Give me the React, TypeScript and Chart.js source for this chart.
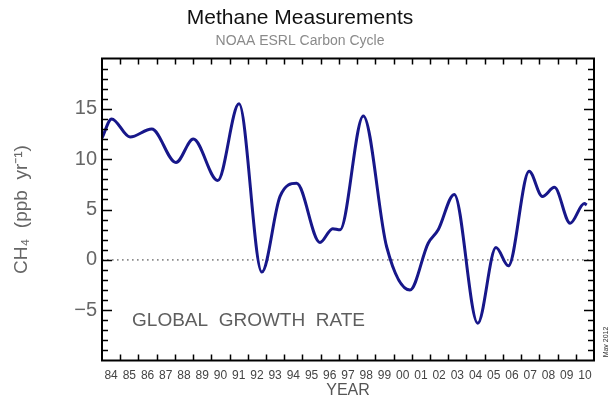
import React, { useEffect, useRef } from 'react';
import { Chart, registerables } from 'chart.js';

Chart.register(...registerables);

// Growth-rate curve (decimal year, ppb/yr): extrema and shoulders
const years = [
  1984.0, 1984.53, 1985.54, 1986.73, 1988.06, 1989.01, 1990.35, 1991.52,
  1992.77, 1993.77, 1994.68, 1995.96, 1996.66, 1997.06,
  1998.34, 1999.62, 2000.9, 2001.9, 2002.45, 2003.33, 2004.62,
  2005.62, 2006.3, 2007.44, 2008.17, 2008.83, 2009.69, 2010.47, 2010.6,
];
const growth = [
  12.1, 14.0, 12.2, 13.0, 9.67, 12.0, 7.88, 15.5,
  -1.22, 6.3, 7.6, 1.72, 3.1, 2.98,
  14.3, 1.3, -3.0, 1.65, 2.98, 6.5, -6.3,
  1.22, -0.6, 8.8, 6.29, 7.2, 3.64, 5.6, 5.45,
];

// Year tick labels (centred on each year)
const yearLabels = [
  '84', '85', '86', '87', '88', '89', '90', '91', '92', '93', '94', '95', '96', '97',
  '98', '99', '00', '01', '02', '03', '04', '05', '06', '07', '08', '09', '10',
];
const yTickValues = [-5, 0, 5, 10, 15];
const yTickLabels = ['\u22125', '0', '5', '10', '15'];

const X_MIN = 1984;
const X_MAX = 2011;
const Y_MIN = -10;
const Y_MAX = 20;

const FONT = "'Liberation Sans', Arial, Helvetica, sans-serif";

const framePlugin = {
  id: 'frame',
  beforeDatasetsDraw(chart: any) {
    const { ctx, chartArea: a, scales } = chart;
    const y0 = scales.y.getPixelForValue(0);
    ctx.save();
    ctx.strokeStyle = '#8c8c8c';
    ctx.lineWidth = 1.6;
    ctx.setLineDash([1.6, 3.4]);
    ctx.beginPath();
    ctx.moveTo(a.left, y0);
    ctx.lineTo(a.right, y0);
    ctx.stroke();
    ctx.restore();
  },
  afterDatasetsDraw(chart: any) {
    const { ctx, chartArea: a, scales } = chart;
    const xs = scales.x;
    const ys = scales.y;
    ctx.save();
    ctx.strokeStyle = '#000';
    ctx.lineWidth = 2;
    ctx.strokeRect(a.left, a.top, a.right - a.left, a.bottom - a.top);
    ctx.lineWidth = 1.5;
    ctx.beginPath();
    for (let yr = X_MIN + 1; yr < X_MAX; yr++) {
      const px = Math.round(xs.getPixelForValue(yr)) + 0.5;
      ctx.moveTo(px, a.bottom);
      ctx.lineTo(px, a.bottom - 6);
      ctx.moveTo(px, a.top);
      ctx.lineTo(px, a.top + 6);
    }
    for (let v = Y_MIN + 1; v < Y_MAX; v++) {
      const py = Math.round(ys.getPixelForValue(v)) + 0.5;
      const len = v % 5 === 0 ? 10 : 6;
      ctx.moveTo(a.left, py);
      ctx.lineTo(a.left + len, py);
      ctx.moveTo(a.right, py);
      ctx.lineTo(a.right - len, py);
    }
    ctx.stroke();

    // annotation
    ctx.fillStyle = '#5e5e5e';
    ctx.font = `19px ${FONT}`;
    ctx.textAlign = 'left';
    ctx.textBaseline = 'alphabetic';
    ctx.fillText('GLOBAL  GROWTH  RATE', xs.getPixelForValue(1985.65), ys.getPixelForValue(-6.6));

    // date stamp
    ctx.translate(606, 342);
    ctx.rotate(-Math.PI / 2);
    ctx.fillStyle = '#333';
    ctx.font = `7px ${FONT}`;
    ctx.textAlign = 'center';
    ctx.textBaseline = 'middle';
    ctx.fillText('May 2012', 0, 0);
    ctx.restore();
  },
};

export default function App() {
  const ref = useRef<HTMLCanvasElement | null>(null);

  useEffect(() => {
    if (!ref.current) return;
    const chart = new Chart(ref.current, {
      type: 'line',
      data: {
        datasets: [
          {
            data: years.map((x, i) => ({ x, y: growth[i] })),
            borderColor: '#17178a',
            borderWidth: 3,
            pointRadius: 0,
            fill: false,
            cubicInterpolationMode: 'monotone',
          },
        ],
      },
      options: {
        animation: false,
        responsive: false,
        devicePixelRatio: 1,
        layout: { padding: { left: 6, right: 14, top: 0, bottom: 0 } },
        plugins: {
          legend: { display: false },
          tooltip: { enabled: false },
          title: {
            display: true,
            text: 'Methane Measurements',
            color: '#111',
            font: { family: FONT, size: 21, weight: 'normal' },
            padding: { top: 6, bottom: 2 },
          },
          subtitle: {
            display: true,
            text: 'NOAA ESRL Carbon Cycle',
            color: '#8a8a8a',
            font: { family: FONT, size: 14, weight: 'normal' },
            padding: { top: 0, bottom: 8.5 },
          },
        },
        scales: {
          x: {
            type: 'linear',
            min: X_MIN,
            max: X_MAX,
            grid: { display: false, drawTicks: false },
            border: { display: false },
            afterBuildTicks: (s: any) => {
              s.ticks = yearLabels.map((_, i) => ({ value: X_MIN + i + 0.5 }));
            },
            afterFit: (s: any) => {
              s.height = 39.5;
            },
            ticks: {
              autoSkip: false,
              maxRotation: 0,
              padding: 8,
              color: '#444',
              font: { family: FONT, size: 12 },
              callback: (v: any) => yearLabels[Math.floor(Number(v) - X_MIN)] ?? '',
            },
            title: {
              display: true,
              text: 'YEAR',
              color: '#555',
              font: { family: FONT, size: 16 },
              padding: 0,
            },
          },
          y: {
            type: 'linear',
            min: Y_MIN,
            max: Y_MAX,
            grid: { display: false, drawTicks: false },
            border: { display: false },
            afterBuildTicks: (s: any) => {
              s.ticks = yTickValues.map((v) => ({ value: v }));
            },
            afterFit: (s: any) => {
              s.width = 96;
            },
            ticks: {
              padding: 5,
              color: '#666',
              font: { family: FONT, size: 20 },
              callback: (v: any) => {
                const i = yTickValues.indexOf(Number(v));
                return i >= 0 ? yTickLabels[i] : '';
              },
            },
            title: {
              display: true,
              text: 'CH\u2084  (ppb  yr\u207B\u00B9)',
              color: '#666',
              font: { family: FONT, size: 19 },
              padding: 4,
            },
          },
        },
      },
      plugins: [framePlugin],
    } as any);
    return () => chart.destroy();
  }, []);

  return (
    <div style={{ position: 'absolute', left: 0, top: 0, width: 608, height: 400, background: '#fff' }}>
      <canvas ref={ref} width={608} height={400} />
    </div>
  );
}
